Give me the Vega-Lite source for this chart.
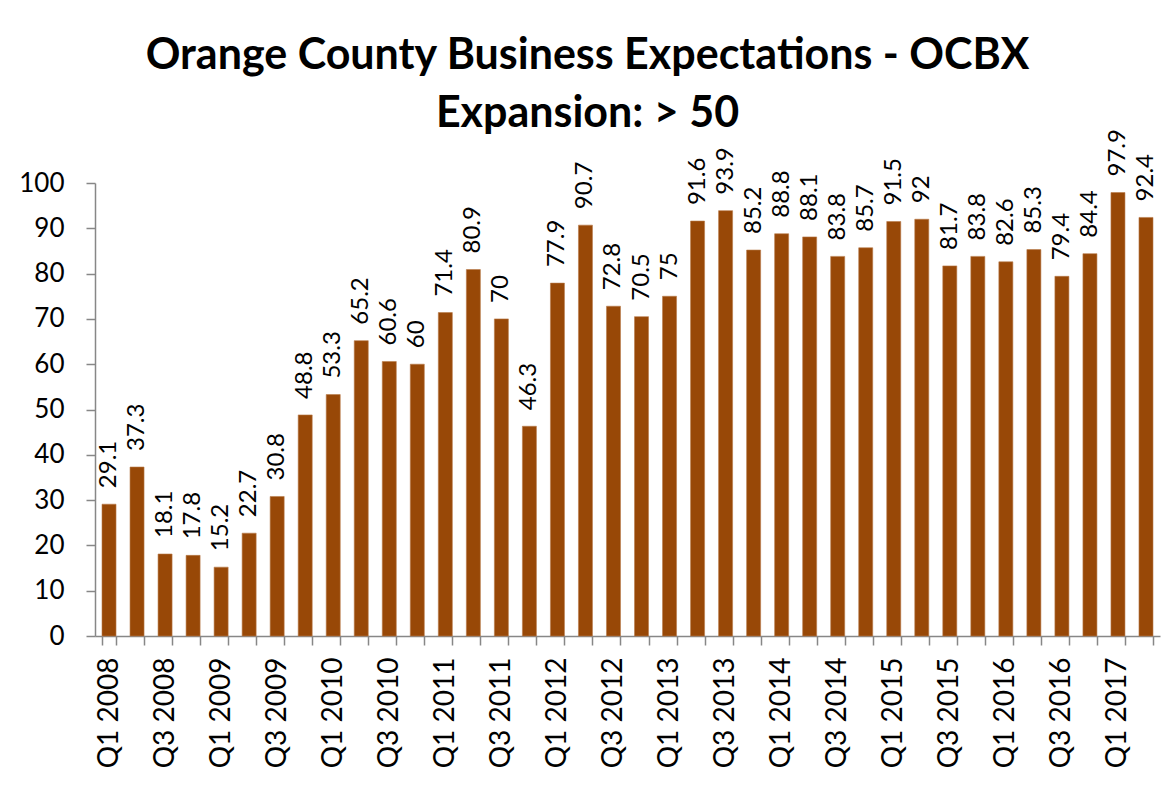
{
  "$schema": "https://vega.github.io/schema/vega-lite/v6.json",
  "width": 1065,
  "height": 453,
  "autosize": "none",
  "padding": {"left": 95, "top": 183, "right": 12, "bottom": 163},
  "background": "white",
  "title": {
    "text": ["Orange County Business Expectations - OCBX", "Expansion: > 50"],
    "font": "Lato",
    "fontSize": 43,
    "fontWeight": "bold",
    "color": "black",
    "anchor": "middle",
    "dx": -40,
    "dy": 62,
    "lineHeight": 58,
    "offset": 55
  },
  "data": {
    "values": [
      {"q": "Q1 2008", "v": 29.1}, {"q": "Q2 2008", "v": 37.3}, {"q": "Q3 2008", "v": 18.1}, {"q": "Q4 2008", "v": 17.8},
      {"q": "Q1 2009", "v": 15.2}, {"q": "Q2 2009", "v": 22.7}, {"q": "Q3 2009", "v": 30.8}, {"q": "Q4 2009", "v": 48.8},
      {"q": "Q1 2010", "v": 53.3}, {"q": "Q2 2010", "v": 65.2}, {"q": "Q3 2010", "v": 60.6}, {"q": "Q4 2010", "v": 60},
      {"q": "Q1 2011", "v": 71.4}, {"q": "Q2 2011", "v": 80.9}, {"q": "Q3 2011", "v": 70}, {"q": "Q4 2011", "v": 46.3},
      {"q": "Q1 2012", "v": 77.9}, {"q": "Q2 2012", "v": 90.7}, {"q": "Q3 2012", "v": 72.8}, {"q": "Q4 2012", "v": 70.5},
      {"q": "Q1 2013", "v": 75}, {"q": "Q2 2013", "v": 91.6}, {"q": "Q3 2013", "v": 93.9}, {"q": "Q4 2013", "v": 85.2},
      {"q": "Q1 2014", "v": 88.8}, {"q": "Q2 2014", "v": 88.1}, {"q": "Q3 2014", "v": 83.8}, {"q": "Q4 2014", "v": 85.7},
      {"q": "Q1 2015", "v": 91.5}, {"q": "Q2 2015", "v": 92}, {"q": "Q3 2015", "v": 81.7}, {"q": "Q4 2015", "v": 83.8},
      {"q": "Q1 2016", "v": 82.6}, {"q": "Q2 2016", "v": 85.3}, {"q": "Q3 2016", "v": 79.4}, {"q": "Q4 2016", "v": 84.4},
      {"q": "Q1 2017", "v": 97.9}, {"q": "Q2 2017", "v": 92.4}
    ]
  },
  "encoding": {
    "x": {
      "field": "q",
      "type": "ordinal",
      "sort": null,
      "title": null,
      "scale": {"paddingInner": 0.5, "paddingOuter": 0.25},
      "axis": {
        "tickBand": "extent",
        "labelAngle": -90,
        "labelFont": "Lato",
        "labelFontSize": 28,
        "labelColor": "black",
        "labelPadding": 12,
        "labelOverlap": false,
        "labelLimit": 300,
        "labelExpr": "(substring(datum.label, 0, 2) == 'Q1' || substring(datum.label, 0, 2) == 'Q3') ? datum.label : ''",
        "tickSize": 9,
        "tickColor": "#878787",
        "domainColor": "#878787",
        "tickWidth": 1.5,
        "domainWidth": 1.5
      }
    },
    "y": {
      "field": "v",
      "type": "quantitative",
      "title": null,
      "scale": {"domain": [0, 100]},
      "axis": {
        "values": [0, 10, 20, 30, 40, 50, 60, 70, 80, 90, 100],
        "grid": false,
        "labelFont": "Lato",
        "labelFontSize": 26,
        "labelColor": "black",
        "labelPadding": 22,
        "tickSize": 9,
        "tickColor": "#878787",
        "domainColor": "#878787",
        "tickWidth": 1.5,
        "domainWidth": 1.5
      }
    }
  },
  "layer": [
    {"mark": {"type": "bar", "color": "#984807", "stroke": "#b87a4a", "strokeWidth": 0.6}},
    {
      "mark": {"type": "text", "angle": -90, "align": "left", "baseline": "middle", "dx": 16, "font": "Lato", "fontSize": 24, "color": "black"},
      "encoding": {"text": {"field": "v", "type": "quantitative"}}
    }
  ],
  "config": {"view": {"stroke": null}}
}
